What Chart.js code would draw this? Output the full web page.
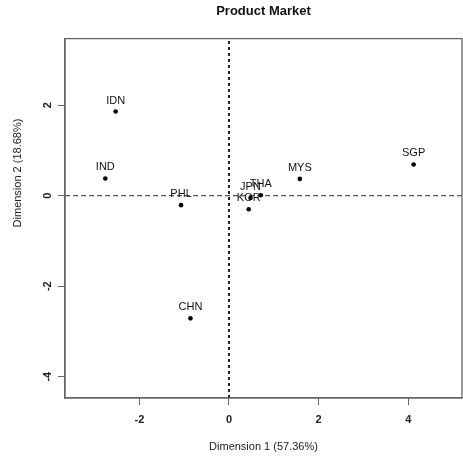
<!DOCTYPE html>
<html>
<head>
<meta charset="utf-8">
<title>Product Market</title>
<script src="https://cdn.jsdelivr.net/npm/chart.js@4/dist/chart.umd.min.js"></script>
<style>
  body { margin: 0; background: #fff; }
  canvas { display: block; }
</style>
</head>
<body>
<canvas id="chart" width="463" height="458"></canvas>
<script>
const countries = ["IDN", "IND", "PHL", "CHN", "JPN", "KOR", "THA", "MYS", "SGP"];
const dim1 = [-2.53, -2.76, -1.07, -0.86, 0.48, 0.44, 0.71, 1.58, 4.12];
const dim2 = [1.86, 0.38, -0.21, -2.71, -0.05, -0.30, 0.01, 0.37, 0.69];

const xRange = [-3.66, 5.2];
const yRange = [-4.47, 3.47];
const tickStep = 2;

const FONT = "'Liberation Sans', Arial, Helvetica, sans-serif";

// labels + rotated y ticks + box, R style
const extras = {
  id: "extras",
  afterDatasetsDraw(chart) {
    const ctx = chart.ctx;
    const meta = chart.getDatasetMeta(0);
    ctx.save();
    ctx.font = "11px " + FONT;
    ctx.fillStyle = "#111";
    ctx.textAlign = "center";
    ctx.textBaseline = "middle";
    meta.data.forEach((pt, i) => {
      ctx.fillText(countries[i], pt.x, pt.y - 11);
    });
    ctx.restore();
  },
  afterDraw(chart) {
    const ctx = chart.ctx;
    const a = chart.chartArea;
    const ys = chart.scales.y;
    ctx.save();
    ctx.strokeStyle = "#666";
    ctx.lineWidth = 1.3;
    ctx.strokeRect(a.left, a.top, a.right - a.left, a.bottom - a.top);

    ctx.font = "bold 11px " + FONT;
    ctx.fillStyle = "#222";
    ctx.textAlign = "center";
    ctx.textBaseline = "middle";
    ys.ticks.forEach(t => {
      const y = ys.getPixelForValue(t.value);
      ctx.save();
      ctx.translate(48, y);
      ctx.rotate(-Math.PI / 2);
      ctx.fillText(String(t.value), 0, 0);
      ctx.restore();
    });

    ctx.font = "11px " + FONT;
    ctx.fillStyle = "#222";
    ctx.save();
    ctx.translate(18, 173);
    ctx.rotate(-Math.PI / 2);
    ctx.fillText("Dimension 2 (18.68%)", 0, 0);
    ctx.restore();
    ctx.restore();
  }
};

const points = countries.map((c, i) => ({ x: dim1[i], y: dim2[i] }));

new Chart(document.getElementById("chart"), {
  type: "scatter",
  data: {
    datasets: [
      {
        data: points,
        pointRadius: 2.3,
        pointBackgroundColor: "#000",
        pointBorderWidth: 0
      },
      {
        data: [{ x: 0, y: yRange[0] }, { x: 0, y: yRange[1] }],
        showLine: true,
        pointRadius: 0,
        borderColor: "#222",
        borderWidth: 2,
        borderDash: [3, 3]
      },
      {
        data: [{ x: xRange[0], y: 0 }, { x: xRange[1], y: 0 }],
        showLine: true,
        pointRadius: 0,
        borderColor: "#555",
        borderWidth: 1.2,
        borderDash: [5, 3]
      }
    ]
  },
  options: {
    responsive: false,
    animation: false,
    layout: { autoPadding: false, padding: { left: 0, right: 1, top: 0, bottom: 0 } },
    plugins: {
      legend: { display: false },
      tooltip: { enabled: false },
      title: {
        display: true,
        text: "Product Market",
        fullSize: false,
        color: "#111",
        font: { family: FONT, size: 13, weight: "bold" },
        padding: { top: 4, bottom: 19 }
      }
    },
    scales: {
      x: {
        type: "linear",
        min: xRange[0],
        max: xRange[1],
        afterFit(scale) {
          scale.height = 60;
          scale.paddingLeft = 0;
          scale.paddingRight = 0;
        },
        grid: { drawOnChartArea: false, drawTicks: true, tickLength: 7, color: "#666" },
        border: { display: true, color: "#666", width: 1.3 },
        ticks: {
          stepSize: tickStep,
          includeBounds: false,
          padding: 8,
          color: "#222",
          font: { family: FONT, size: 11, weight: "bold" }
        },
        title: {
          display: true,
          text: "Dimension 1 (57.36%)",
          color: "#222",
          font: { family: FONT, size: 11 },
          padding: { top: 0, bottom: 4 }
        }
      },
      y: {
        type: "linear",
        min: yRange[0],
        max: yRange[1],
        afterFit(scale) {
          scale.width = 65;
          scale.paddingTop = 0;
          scale.paddingBottom = 0;
        },
        grid: { drawOnChartArea: false, drawTicks: true, tickLength: 7, color: "#666" },
        border: { display: true, color: "#666", width: 1.3 },
        ticks: {
          stepSize: tickStep,
          includeBounds: false,
          color: "rgba(0,0,0,0)",
          font: { family: FONT, size: 11 }
        }
      }
    }
  },
  plugins: [extras]
});
</script>
</body>
</html>
